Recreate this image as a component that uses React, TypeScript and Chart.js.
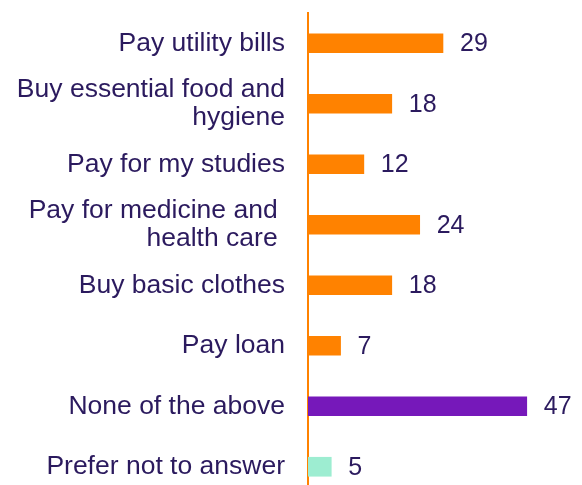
import React, { useEffect, useRef } from "react";
import { Chart, registerables } from "chart.js";

Chart.register(...registerables);

const categories: (string | string[])[] = [
  "Pay utility bills",
  ["Buy essential food and", "hygiene"],
  "Pay for my studies",
  ["Pay for medicine and ", "health care "],
  "Buy basic clothes",
  "Pay loan",
  "None of the above",
  "Prefer not to answer",
];
const values = [29, 18, 12, 24, 18, 7, 47, 5];
const barColors = ["#FF8200", "#FF8200", "#FF8200", "#FF8200", "#FF8200", "#FF8200", "#7618BA", "#9DEDD1"];

const TEXT = "#2B1A5E";
const FONT = "Liberation Sans, Arial, sans-serif";

const valueLabels = {
  id: "valueLabels",
  afterDatasetsDraw(chart: any) {
    const ctx = chart.ctx;
    const meta = chart.getDatasetMeta(0);
    ctx.save();
    ctx.fillStyle = TEXT;
    ctx.font = `25px ${FONT}`;
    ctx.textAlign = "left";
    ctx.textBaseline = "middle";
    meta.data.forEach((bar: any, i: number) => {
      ctx.fillText(String(values[i]), bar.x + 17, bar.y + 1);
    });
    ctx.restore();
  },
};

export default function App() {
  const ref = useRef<HTMLCanvasElement>(null);
  useEffect(() => {
    if (!ref.current) return;
    const chart = new Chart(ref.current, {
      type: "bar",
      data: {
        labels: categories,
        datasets: [{ data: values, backgroundColor: barColors, barThickness: 19 }],
      },
      options: {
        indexAxis: "y",
        animation: false,
        responsive: false,
        layout: { padding: { top: 13, bottom: 3, right: 18, left: 0 } },
        plugins: { legend: { display: false }, tooltip: { enabled: false } },
        scales: {
          x: { display: false, min: 0, max: 55 },
          y: {
            afterFit: (scale: any) => {
              scale.width = 308;
              scale.paddingTop = 0;
              scale.paddingBottom = 0;
            },
            grid: { display: false, drawTicks: false },
            border: { display: true, color: "#FF8200", width: 2 },
            ticks: {
              autoSkip: false,
              padding: 23,
              color: TEXT,
              font: { size: 26.5, family: FONT, lineHeight: 1.08 },
            },
          },
        },
      },
      plugins: [valueLabels],
    });
    return () => chart.destroy();
  }, []);
  return (
    <div style={{ position: "absolute", left: 0, top: 0, width: 582, height: 485, overflow: "hidden", background: "#fff" }}>
      <canvas ref={ref} width={582} height={500} />
    </div>
  );
}
